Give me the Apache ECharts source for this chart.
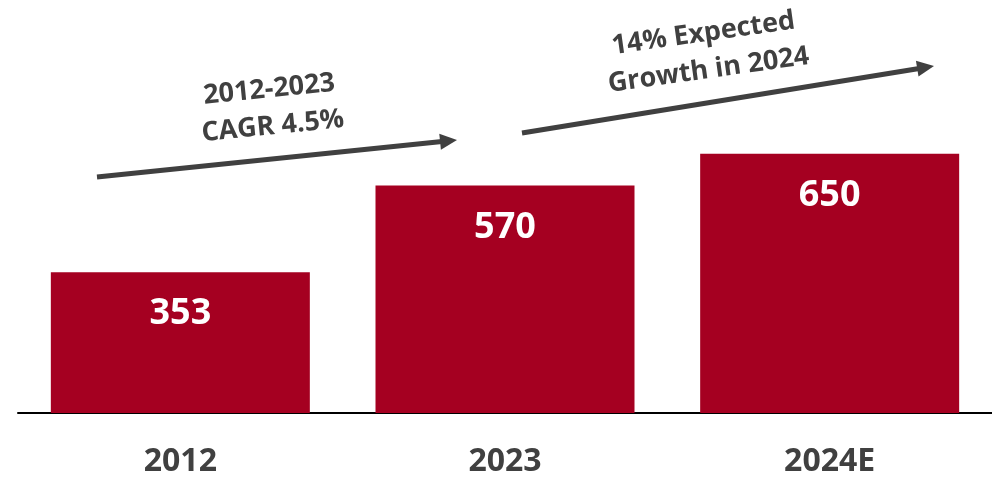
<!DOCTYPE html>
<html>
<head>
<meta charset="utf-8">
<script src="https://cdn.jsdelivr.net/npm/echarts@6/dist/echarts.min.js"></script>
<style>
  html, body { margin: 0; padding: 0; background: #ffffff; }
  #chart { width: 992px; height: 480px; }
</style>
</head>
<body>
<div id="chart"></div>
<script>
// Market size by year, with the 2024 estimate
const categories = ['2012', '2023', '2024E'];
const values = [353, 570, 650];

// Annotation texts above the bars
const cagrText = ['2012-2023', 'CAGR 4.5%'];
const growthText = ['14% Expected', 'Growth in 2024'];

const BAR_COLOR = '#A50021';
const TEXT_COLOR = '#404040';
const FONT = '"Open Sans", "DejaVu Sans", sans-serif';

// Builds a thick arrow (shaft + triangular head) as graphic elements
function arrow(x1, y1, x2, y2) {
  const dx = x2 - x1, dy = y2 - y1;
  const len = Math.sqrt(dx * dx + dy * dy);
  const ux = dx / len, uy = dy / len;
  const headLen = 17, headHalf = 8;
  const bx = x2 - ux * headLen, by = y2 - uy * headLen;
  return [
    {
      type: 'line',
      shape: { x1: x1, y1: y1, x2: bx + ux * 2, y2: by + uy * 2 },
      style: { stroke: TEXT_COLOR, lineWidth: 5 },
      silent: true
    },
    {
      type: 'polygon',
      shape: {
        points: [
          [x2, y2],
          [bx - uy * headHalf, by + ux * headHalf],
          [bx + uy * headHalf, by - ux * headHalf]
        ]
      },
      style: { fill: TEXT_COLOR },
      silent: true
    }
  ];
}

function note(lines, x, y, deg) {
  return {
    type: 'text',
    x: x,
    y: y,
    rotation: deg * Math.PI / 180,
    silent: true,
    style: {
      text: lines.join('\n'),
      fill: TEXT_COLOR,
      font: 'bold 27px ' + FONT,
      lineHeight: 37,
      align: 'center',
      verticalAlign: 'middle'
    }
  };
}

const chart = echarts.init(document.getElementById('chart'), null, { renderer: 'canvas' });

chart.setOption({
  animation: false,
  backgroundColor: '#ffffff',
  grid: { left: 18, right: -2, top: 14, bottom: 67, containLabel: false },
  xAxis: {
    type: 'category',
    data: categories,
    axisLine: { show: true, lineStyle: { color: '#000000', width: 2 } },
    axisTick: { show: false },
    axisLabel: {
      margin: 33,
      color: TEXT_COLOR,
      fontFamily: FONT,
      fontWeight: 'bold',
      fontSize: 32
    }
  },
  yAxis: {
    type: 'value',
    min: 0,
    max: 1000,
    show: false,
    splitLine: { show: false }
  },
  series: [{
    type: 'bar',
    data: values,
    barWidth: 259,
    itemStyle: { color: BAR_COLOR },
    label: {
      show: true,
      position: 'insideTop',
      distance: 24,
      color: '#ffffff',
      fontFamily: FONT,
      fontWeight: 'bold',
      fontSize: 36
    }
  }],
  graphic: [].concat(
    arrow(97, 177, 457, 140),
    arrow(522, 133, 934, 66),
    [
      note(cagrText, 271, 108, 5.7),
      note(growthText, 706, 52, 8)
    ]
  )
});
</script>
</body>
</html>
